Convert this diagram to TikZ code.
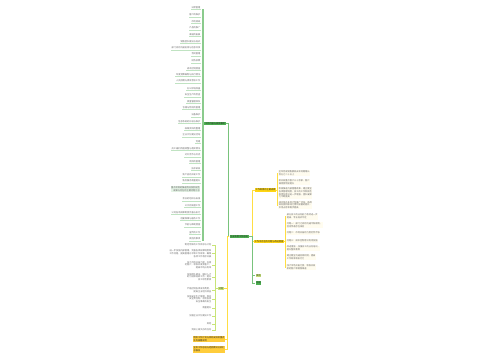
\documentclass[tikz,border=0pt]{standalone}
\usepackage{fontspec}
\newfontfamily\cjk{Noto Sans CJK SC}
\usetikzlibrary{positioning}
\definecolor{mapgreen}{RGB}{76,175,80}
\definecolor{mapyellow}{RGB}{255,214,20}
\definecolor{maporange}{RGB}{255,205,60}
\definecolor{maplime}{RGB}{200,228,120}
\definecolor{leafgray}{RGB}{105,105,105}
\tikzset{
  tinyfont/.style={font=\cjk\fontsize{2.2}{2.7}\selectfont},
  topic/.style={tinyfont,inner sep=0.7pt,minimum height=3.6pt},
  greentopic/.style={topic,fill=mapgreen,text=black!85},
  yellowtopic/.style={topic,fill=mapyellow,text=black!85},
  orangetopic/.style={topic,fill=maporange,text=black!85,align=left},
  limetopic/.style={topic,fill=maplime,text=black!85},
  leafL/.style={tinyfont,inner sep=0.5pt,anchor=east,text=leafgray,align=right},
  leafR/.style={tinyfont,inner sep=0.6pt,anchor=west,text=leafgray,align=left,fill=mapyellow!7},
  gline/.style={draw=mapgreen!75,line width=0.5pt},
  gbar/.style={draw=mapgreen!65,line width=1.2pt},
  yline/.style={draw=mapyellow!80,line width=0.5pt},
  lline/.style={draw=maplime,line width=0.5pt},
  uline/.style={draw=mapgreen!35,line width=0.3pt}
}
\begin{document}
\begin{tikzpicture}[x=1pt,y=-1pt]
  \useasboundingbox[fill=white] (0,0) rectangle (500,360);

  % Root and main topics
  \node[greentopic] (root) at (239,236.5) {企业年度工作总结};
  \node[greentopic] (work) at (215,123.5) {工作内容与具体事项};
  \node[yellowtopic] (gain) at (265.5,190) {工作取得的主要成绩};
  \node[yellowtopic] (prob) at (269,241.5) {工作中存在的问题与改进措施};
  \node[limetopic] (misc) at (258.5,275.5) {其他};
  \node[greentopic,minimum height=3pt] (sum) at (258.5,283) {总结};
  \node[limetopic] (plan) at (221,288.5) {计划};
  \node[orangetopic] (aim) at (209,339) {明年工作计划与目标安排及重点\\任务部署说明};
  \node[orangetopic] (rep) at (209,349.5) {全年工作总结与经验教训分析汇\\总报告};

  % Root connectors
  \draw[gline] (root.west) -- ++(-1,0) |- (work.east);
  \foreach \n in {plan,aim,rep}
    \draw[yline] (root.west) -- ++(-2,0) |- (\n.east);
  \foreach \n in {gain,prob}
    \draw[yline] (root.east) -- ++(4,0) |- (\n.west);
  \foreach \n in {misc,sum}
    \draw[gline] (root.east) -- ++(4,0) |- (\n.west);

  % Work items (left list)
  \foreach \i/\y/\t in {0/7.3/日常管理, 1/15/客户的维护, 2/21.3/市场调研, 3/28/产品的推广,
      4/34.3/渠道的拓展, 5/41.3/销售团队建设与培训, 6/48/部门间的沟通协调与信息共享,
      7/54/合同管理, 8/61/财务核算, 9/68.3/成本控制措施, 10/74.3/年度预算编制与执行情况,
      11/81/人员招聘与绩效考核工作, 12/88.3/办公环境改善, 13/95/安全生产的检查,
      14/101.7/质量管理体系, 15/107.7/仓储与物流的管理, 16/115/设备维护,
      17/121.7/信息系统的升级与维护, 18/128.3/档案资料的整理, 19/135/企业文化建设活动,
      20/141.7/党建, 21/148.3/员工福利待遇调整与落实情况, 22/155/对外合作与交流,
      23/161.7/项目的管理, 24/168.3/技术研发, 25/175/新产品的开发工作,
      26/181/售后服务质量提升, 28/199/会议的组织与安排, 29/205.3/公文的处理工作,
      30/212.3/公司各项规章制度完善与执行, 31/218.3/后勤保障与服务工作,
      32/225/节能与降耗措施, 33/232.3/宣传的工作, 34/239/其他的事项} {
    \node[leafL] (w\i) at (201,\y) {\t};
    \draw[gbar] (work.west) -| ([xshift=2pt]w\i.south east);
    \draw[uline] (w\i.south east) -- (w\i.south west);
  }
  \node[leafL,fill=mapgreen!15] (w27) at (200.5,189) {重点项目的推进情况及阶段性\\成果与存在的主要问题汇总};
  \draw[gbar] (work.west) -| ([xshift=2.5pt]w27.south east);

  % Achievements
  \foreach \i/\y/\t in {0/173/{全年完成销售额较去年同期增长\\百分之二十以上},
      1/182/{新开发重点客户三十余家，客户\\满意度明显提升},
      2/193/{积极推进内部管理改革，建立健全\\各项管理制度，员工的工作积极性\\和责任意识进一步增强，团队凝聚\\力不断提高},
      3/205/{成功举办多场大型推广活动，品牌\\知名度和影响力得到显著的提升，\\市场占有率稳步提高}} {
    \node[leafR] (g\i) at (278,\y) {\t};
    \draw[yline] (gain.east) -- ++(1,0) |- (g\i.west);
  }

  % Problems and measures
  \foreach \i/\y/\t in {0/216.5/{部分员工的业务能力有待进一步\\提高，专业培训不足},
      1/225/{问题一：部门之间的沟通不够顺畅，\\信息传递存在滞后},
      2/233/{问题二：市场开拓的力度仍然不够},
      3/241/{问题三：成本控制意识有待加强},
      4/248.5/{改进措施：加强员工的业务培训，\\提升整体素质},
      5/257/{建立健全沟通协调机制，提高\\工作效率和执行力},
      6/267/{加大市场开拓力度，积极开发\\新的客户和销售渠道}} {
    \node[leafR] (p\i) at (286,\y) {\t};
    \draw[yline] (prob.east) -- ++(1,0) |- (p\i.west);
  }

  % Plan items
  \foreach \i/\y/\t in {0/245/{制定明年的工作目标与计划},
      1/253.5/{进一步加强内部管理，完善各项规章制度和\\工作流程，提高管理水平和工作效率，确保\\各项工作有序开展},
      2/265/{加大市场开拓力度，巩固\\老客户，积极开发新客户，\\提高市场占有率},
      3/277/{加强团队建设，做好人才\\的引进和培养工作，提升\\员工综合素质},
      4/290/{严格控制各项成本费用，\\提高企业经济效益},
      5/299/{加强安全生产管理，落实\\安全责任制，杜绝各类\\安全事故的发生},
      6/308/{质量提升}, 7/316/{加强企业文化建设工作},
      8/324/{其他}, 9/330/{完成上级交办的任务}} {
    \node[leafL] (c\i) at (212,\y) {\t};
    \draw[lline] (plan.west) -- ++(-3,0) |- (c\i.east);
  }
\end{tikzpicture}
\end{document}
